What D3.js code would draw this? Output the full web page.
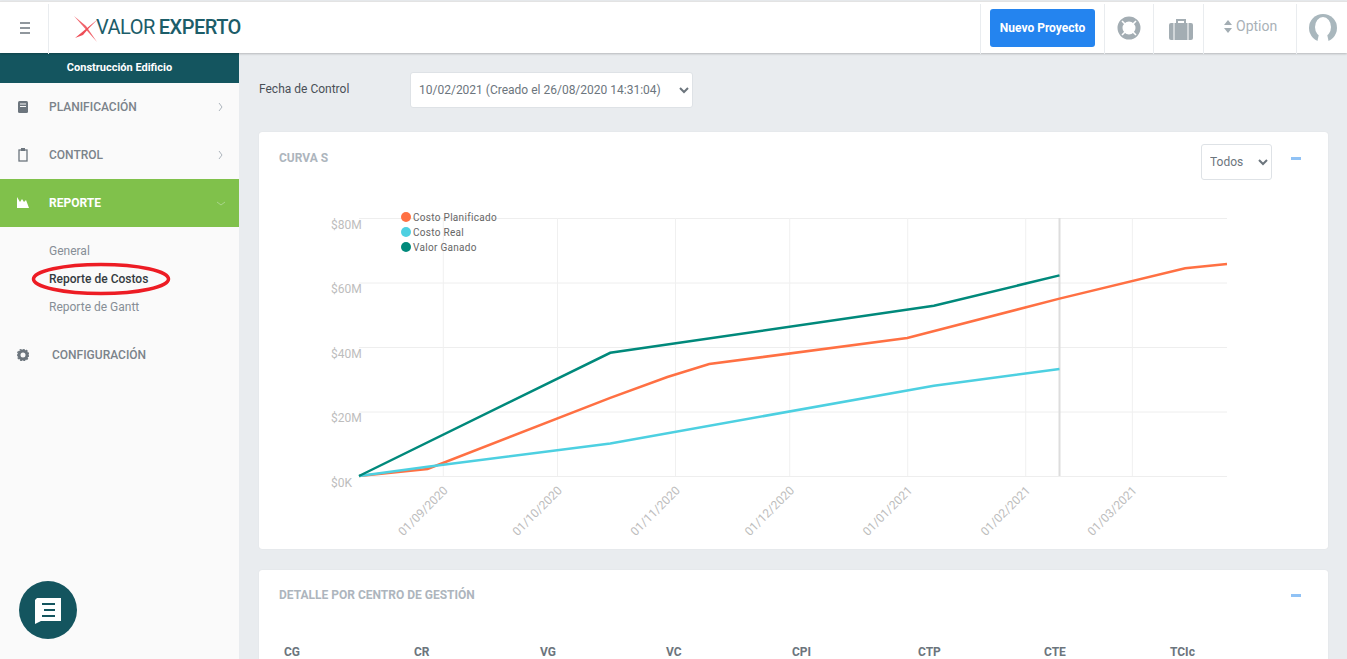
<!DOCTYPE html>
<html>
<head>
<meta charset="utf-8">
<title>Reporte de Costos</title>
<script src="https://cdn.jsdelivr.net/npm/d3@7"></script>
<style>
html,body{margin:0;padding:0;width:1347px;height:659px;overflow:hidden;background:#e9ecef;font-family:Roboto,sans-serif;}
.abs{position:absolute;white-space:nowrap;}
#header{left:0;top:1px;width:1347px;height:51px;background:#fff;border-top:1px solid #e3e3e3;box-shadow:0 1px 2px rgba(0,0,0,.22);z-index:3;}
.vdiv{position:absolute;top:2px;width:1px;height:50px;background:#e9ecef;}
#side{left:0;top:53px;width:239px;height:606px;background:#fafafa;}
#project{left:0;top:53px;width:239px;height:30px;background:#14555f;color:#fff;font-size:11px;font-weight:700;text-align:center;line-height:29px;}
#active{left:0;top:179px;width:239px;height:48px;background:#80c14b;}
.nav{font-size:12px;font-weight:500;color:#7b838a;}
.sub{font-size:12px;color:#868e96;}
.card{position:absolute;left:259px;width:1069px;background:#fff;border-radius:3px;box-shadow:0 0 1px rgba(0,0,0,.12);}
.ctitle{font-size:12px;font-weight:700;color:#adb5bd;}
.minus{width:10px;height:3px;background:#90c2f5;}
select{font-family:Roboto,sans-serif;font-size:12px;color:#6c757d;background:#fff;border:1px solid #dee2e6;border-radius:3px;padding:0 4px;}
.th{font-size:12px;font-weight:700;color:#6c757d;}
svg text{font-family:Roboto,sans-serif;}
</style>
</head>
<body>
<div id="side" class="abs"></div>
<div id="project" class="abs">Construcción Edificio</div>
<div id="active" class="abs"></div>

<div id="header" class="abs">
  <div class="vdiv" style="left:48px"></div>
  <div class="vdiv" style="left:980px"></div>
  <div class="vdiv" style="left:1104px"></div>
  <div class="vdiv" style="left:1153px"></div>
  <div class="vdiv" style="left:1203px"></div>
  <div class="vdiv" style="left:1296px"></div>
  <svg class="abs" style="left:19px;top:19px" width="12" height="14"><path d="M1 2H11M1 7H11M1 12H11" stroke="#6c757d" stroke-width="1.6"/></svg>
  <svg class="abs" style="left:72px;top:11px" width="30" height="32">
    <path d="M2 3 L25 29 L14 13 Z" fill="#f0636b"/><path d="M26 6 L3 25 L11 22 L17 15 Z" fill="#ee4d57"/>
  </svg>
  <div class="abs" style="left:96px;top:13px;font-size:20px;font-weight:400;color:#1c5d69;letter-spacing:-.5px">VALOR<span style="font-weight:500;margin-left:4px">EXPERTO</span></div>
  <div class="abs" style="left:990px;top:7px;width:105px;height:38px;background:#2484ef;border-radius:3px;color:#fff;font-size:12px;font-weight:700;text-align:center;line-height:38px">Nuevo Proyecto</div>
  <svg class="abs" style="left:1117px;top:14px" width="24" height="24"><circle cx="12" cy="12" r="9" fill="none" stroke="#a3adb3" stroke-width="5"/><path d="M5 5L9 9M19 5L15 9M5 19L9 15M19 19L15 15" stroke="#fff" stroke-width="1.6"/></svg>
  <svg class="abs" style="left:1168px;top:15px" width="26" height="24"><path d="M9 6V3H17V6" fill="none" stroke="#a3adb3" stroke-width="2"/><rect x="1" y="6" width="24" height="17" rx="2" fill="#a3adb3"/><path d="M6 6V23M20 6V23" stroke="#fff" stroke-width="1"/></svg>
  <svg class="abs" style="left:1224px;top:18px" width="8" height="14"><path d="M4 0L8 5H0ZM4 13L8 8H0Z" fill="#a3adb3"/></svg>
  <div class="abs" style="left:1236px;top:16px;font-size:14px;color:#a9b1b7">Option</div>
  <svg class="abs" style="left:1308px;top:11px" width="30" height="30"><circle cx="15" cy="15" r="14" fill="#a9b7bd"/><ellipse cx="15" cy="14" rx="8" ry="10" fill="#fff"/><path d="M9 30L11 21H19L21 30Z" fill="#fff"/></svg>
</div>

<svg class="abs" style="left:17px;top:100px" width="14" height="120">
  <rect x="1" y="1" width="10" height="12" rx="1.5" fill="#6c757d"/><path d="M3 4H9M3 6.5H9" stroke="#fafafa"/>
  <rect x="2" y="50" width="8" height="11" fill="none" stroke="#6c757d" stroke-width="1.3"/><rect x="4" y="48" width="4" height="3" fill="#6c757d"/>
  <path d="M0 108V97L3 102L5 99L7 102L9 100L12 108Z" fill="#fff"/>
</svg>
<div class="abs nav" style="left:49px;top:100px">PLANIFICACIÓN</div>
<div class="abs nav" style="left:49px;top:148px">CONTROL</div>
<div class="abs nav" style="left:49px;top:196px;color:#fff;font-weight:700">REPORTE</div>
<svg class="abs" style="left:215px;top:100px" width="12" height="112">
  <path d="M4 3L7 7L4 11M4 51L7 55L4 59" fill="none" stroke="#adb5bd"/>
  <path d="M2 102L6 105L10 102" fill="none" stroke="#a9d58a"/>
</svg>
<div class="abs sub" style="left:49px;top:244px">General</div>
<div class="abs sub" style="left:49px;top:272px;color:#343a40;font-weight:500">Reporte de Costos</div>
<div class="abs sub" style="left:49px;top:300px">Reporte de Gantt</div>
<svg class="abs" style="left:0;top:255px" width="239" height="50"><ellipse cx="101" cy="24" rx="67.5" ry="14.5" fill="none" stroke="#ed1c24" stroke-width="3.5"/></svg>
<svg class="abs" style="left:17px;top:349px" width="12" height="12"><circle cx="6" cy="6" r="4" fill="none" stroke="#6c757d" stroke-width="3"/><circle cx="6" cy="6" r="5.8" fill="none" stroke="#6c757d" stroke-width="1.2" stroke-dasharray="2 1.3"/></svg>
<div class="abs nav" style="left:52px;top:348px">CONFIGURACIÓN</div>
<svg class="abs" style="left:19px;top:581px" width="58" height="58"><circle cx="29" cy="29" r="29" fill="#14555f"/><path d="M18 17H42V40H22L16 43V19Z" fill="#fff"/><path d="M23 23H36M25 29H36M23 35H36" stroke="#14555f" stroke-width="2"/></svg>

<div class="abs" style="left:259px;top:82px;font-size:12px;color:#495057">Fecha de Control</div>
<select class="abs" style="left:410px;top:72px;width:283px;height:36px;padding-left:4px"><option>10/02/2021 (Creado el 26/08/2020 14:31:04)</option></select>

<div class="card" style="top:132px;height:417px">
  <div class="abs ctitle" style="left:20px;top:19px">CURVA S</div>
  <select class="abs" style="left:942px;top:12px;width:71px;height:36px;padding-left:4px"><option>Todos</option></select>
  <div class="abs minus" style="left:1032px;top:25px"></div>
</div>
<div class="card" style="top:570px;height:100px">
  <div class="abs ctitle" style="left:20px;top:18px">DETALLE POR CENTRO DE GESTIÓN</div>
  <div class="abs minus" style="left:1032px;top:24px"></div>
</div>
<div id="thead"></div>

<svg id="chart" class="abs" style="left:0;top:0;z-index:1" width="1347" height="659"></svg>

<script>
// data
var yTicks = [0, 20, 40, 60, 80];
var xTicks = ["2020-09-01","2020-10-01","2020-11-01","2020-12-01","2021-01-01","2021-02-01","2021-03-01"];
var controlDate = "2021-02-10";

var plannedDates = ["2020-08-10","2020-08-28","2020-10-15","2020-10-30","2020-11-10","2021-01-01","2021-02-10","2021-03-15","2021-03-26"];
var plannedValues = [0, 2.2, 24.2, 30.7, 34.7, 42.8, 55, 64.4, 65.7];

var actualDates = ["2020-08-10","2020-08-28","2020-10-15","2021-01-08","2021-02-10"];
var actualValues = [0, 2.9, 10.1, 28, 33.2];

var earnedDates = ["2020-08-10","2020-10-15","2021-01-08","2021-02-10"];
var earnedValues = [0, 38.2, 52.8, 62.2];

var seriesNames = ["Costo Planificado","Costo Real","Valor Ganado"];
var seriesColors = ["#ff7043","#4dd0e1","#00897b"];
var tableHeaders = ["CG","CR","VG","VC","CPI","CTP","CTE","TCIc"];

var parseDate = d3.utcParse("%Y-%m-%d");
var formatDate = d3.utcFormat("%d/%m/%Y");

var svg = d3.select("#chart");

var x = d3.scaleUtc()
    .domain([parseDate("2020-08-10"), parseDate("2021-03-26")])
    .range([359, 1227]);

var y = d3.scaleLinear()
    .domain([0, 80])
    .range([476, 218]);

// grid
var yAxis_g = svg.append("g")
    .attr("transform", "translate(359,0)")
    .call(d3.axisLeft(y).tickValues(yTicks).tickSize(-868).tickPadding(0)
      .tickFormat(function(d) { return "$" + d + (d == 0 ? "K" : "M"); }));
yAxis_g.select(".domain").remove();
yAxis_g.selectAll("line").attr("stroke", "#eeeeee");
yAxis_g.selectAll("text")
    .attr("x", -28)
    .attr("dy", "0.85em")
    .attr("text-anchor", "start")
    .attr("fill", "#bdbdbd")
    .style("font-size", "12px");

var xAxis_g = svg.append("g")
    .attr("transform", "translate(0,476)")
    .call(d3.axisBottom(x).tickValues(xTicks.map(parseDate)).tickSize(-258).tickPadding(0).tickFormat(formatDate));
xAxis_g.select(".domain").remove();
xAxis_g.selectAll("line").attr("stroke", "#f0f0f0");
xAxis_g.selectAll("text")
    .attr("text-anchor", "end")
    .attr("fill", "#bdbdbd")
    .attr("transform", "translate(1,11) rotate(-45)")
    .attr("dy", "0.5em")
    .style("font-size", "12px");

// control date line
svg.append("line")
    .attr("x1", x(parseDate(controlDate)))
    .attr("x2", x(parseDate(controlDate)))
    .attr("y1", y(80))
    .attr("y2", y(0))
    .attr("stroke", "#dddddd")
    .attr("stroke-width", 2);

var line = d3.line()
    .x(function(d) { return x(d.date); })
    .y(function(d) { return y(d.value); });

function toPoints(dates, values) {
  return dates.map(function(d, i) { return {date: parseDate(d), value: values[i]}; });
}

var series = [
  toPoints(plannedDates, plannedValues),
  toPoints(actualDates, actualValues),
  toPoints(earnedDates, earnedValues)
];

svg.selectAll(".serie")
    .data(series)
    .enter()
    .append("path")
    .attr("class", "serie")
    .attr("fill", "none")
    .attr("stroke-width", 2.5)
    .attr("stroke", function(d, i) { return seriesColors[i]; })
    .attr("d", line);

// legend
var legend = svg.selectAll(".legend")
    .data(seriesNames)
    .enter()
    .append("g")
    .attr("class", "legend")
    .attr("transform", function(d, i) { return "translate(406," + (217 + i * 15) + ")"; });

legend.append("circle")
    .attr("r", 5)
    .attr("fill", function(d, i) { return seriesColors[i]; });

legend.append("text")
    .attr("x", 7)
    .attr("dy", "0.35em")
    .attr("fill", "#666666")
    .style("font-size", "10px")
    .style("letter-spacing", "0.3px")
    .text(function(d) { return d; });

// table header of the second card
d3.select("#thead").selectAll("div")
    .data(tableHeaders)
    .enter()
    .append("div")
    .attr("class", "abs th")
    .style("left", function(d, i) { return (284 + i * 126 + (i == 0 ? 0 : 4)) + "px"; })
    .style("top", "645px")
    .text(function(d) { return d; });
</script>
</body>
</html>
